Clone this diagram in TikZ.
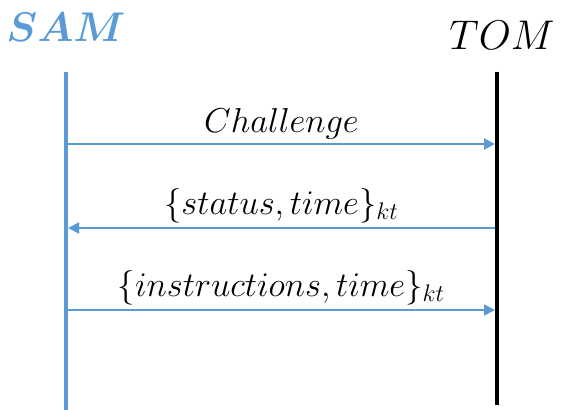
\documentclass[tikz,border=0pt]{standalone}
\usepackage{amsmath}
\usepackage{amssymb}
\usepackage{bm}
\usetikzlibrary{arrows.meta}

\definecolor{samblue}{HTML}{5B9BD5}

\tikzset{
  lifeline/.style={line width=2pt},
  msg/.style={samblue, line width=1pt, -{Triangle[length=5.5pt,width=5.5pt]}},
  msglabel/.style={above, text=black, inner sep=2pt, font=\fontsize{17}{20}\selectfont}
}

\begin{document}
\begin{tikzpicture}[x=0.5pt,y=-0.5pt]
    \useasboundingbox (0,0) rectangle (567,410);
    % the two parties
    \node[text=samblue, font=\fontsize{20}{24}\selectfont] at (66,27) (sam) {$\bm{SAM}$};
    \node[font=\fontsize{21}{25}\selectfont] at (502,35) (tom) {$TOM$};
    \coordinate (samtop) at (66,72);
    \coordinate (sambot) at (66,410);
    \coordinate (tomtop) at (497,72);
    \coordinate (tombot) at (497,405);
    \draw[lifeline, samblue] (samtop) -- (sambot);
    \draw[lifeline] (tomtop) -- (tombot);
    % message end points
    \coordinate (s1) at (68,144);
    \coordinate (t1) at (495,144);
    \coordinate (s2) at (68,228);
    \coordinate (t2) at (495,228);
    \coordinate (s3) at (68,310);
    \coordinate (t3) at (495,310);
    \draw[msg] (s1) -- (t1) node[msglabel, midway] (chal) {$Challenge$};
    \draw[msg] (t2) -- (s2) node[msglabel, midway] (stat) {$\{status, time\}_{kt}$};
    \draw[msg] (s3) -- (t3) node[msglabel, midway] (instr) {$\{instructions, time\}_{kt}$};
\end{tikzpicture}
\end{document}
